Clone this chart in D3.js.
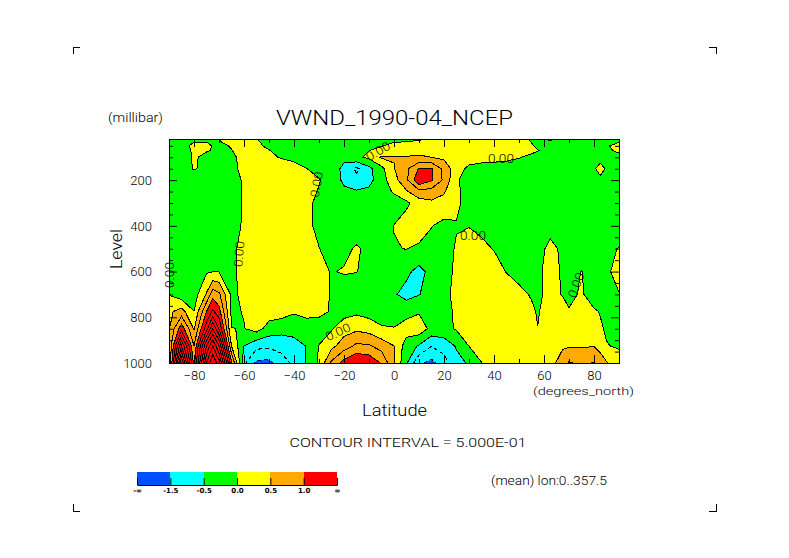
<!DOCTYPE html>
<html>
<head>
<meta charset="utf-8">
<script src="https://cdnjs.cloudflare.com/ajax/libs/d3/7.8.5/d3.min.js"></script>
<style>
  html, body { margin: 0; background: #fff; }
  text { font-family: Roboto, "DejaVu Sans", sans-serif; font-weight: 300; fill: #000; }
  .key text { font-family: "DejaVu Sans", sans-serif; font-weight: bold; }
</style>
</head>
<body>
<svg width="789" height="558"></svg>
<script>
const lats = [-90,-85,-80,-75,-72.5,-70,-65,-60,-55,-50,
  -45,-40,-35,-30,-25,-20,-15,-10,-5,0,
  5,10,15,20,25,30,35,40,45,50,
  55,57.5,62.5,67.5,70,75,80,82.5,85,90];
const levels = [20,30,50,70,100,150,200,250,300,400,500,600,700,775,850,925,1000];

// mean v wind, one row per level, top of plot first
const vwnd = [
  [-.2,-.2,-.1,-.1,-.08,-.05,.2,.2,.01,-.2, -.3,-.3,-.3,-.3,-.3,-.2,-.2,-.2,-.1,-.1, -.05,-.1,.1,.2,.2,.2,.2,.2,.2,.1, -.05,-.02,.03,-.02,-.1,-.2,-.2,-.2,-.1,-.1],
  [-.2,-.2,-.02,-.02,-.02,-.02,.2,.2,.05,-.15, -.3,-.3,-.3,-.3,-.3,-.2,-.2,-.15,-.08,-.05, -.02,.05,.2,.3,.3,.3,.3,.3,.3,.25, -.02,-.05,-.02,-.1,-.15,-.2,-.2,-.2,-.1,-.05],
  [-.2,-.15,.1,.1,-.02,-.15,.05,.3,.1,-.1, -.3,-.3,-.3,-.3,-.3,-.25,-.2,-.12,-.02,.15, .25,.3,.3,.3,.3,.3,.3,.3,.25,.2, .05,-.1,-.2,-.2,-.2,-.2,-.2,-.2,-.05,.15],
  [-.2,-.15,.05,.03,-.02,-.15,-.02,.3,.25,.02, -.2,-.3,-.3,-.3,-.3,-.3,-.2,-.01,.1,.3, .35,.4,.35,.3,.3,.3,.3,.25,.2,.15, .1,.02,-.2,-.2,-.2,-.2,-.2,-.15,-.1,.1],
  [-.3,-.2,.05,-.1,-.15,-.2,-.1,.15,.3,.1, -.04,-.2,-.3,-.3,-.4,-.4,-.1,.1,.55,.52, .52,.55,.5,.4,.3,.2,.2,.15,.1,.02, -.1,-.15,-.2,-.2,-.2,-.2,-.2,-.15,-.2,-.15],
  [-.3,-.2,.03,-.1,-.2,-.2,-.1,.1,.3,.3, .3,.3,.01,-.15,-.3,-.6,-1.1,-.65,-.15,.48, .9,1.55,1.55,.85,.2,-.1,-.2,-.2,-.2,-.2, -.2,-.2,-.2,-.2,-.2,-.2,-.05,.15,-.05,-.2],
  [-.3,-.3,-.2,-.2,-.2,-.2,-.1,.03,.3,.3, .3,.3,.3,.03,-.2,-.6,-.85,-.65,-.2,.3, .9,1.9,1.55,.9,.05,-.2,-.25,-.25,-.25,-.25, -.25,-.25,-.25,-.25,-.25,-.25,-.25,-.1,-.2,-.25],
  [-.3,-.3,-.3,-.25,-.2,-.2,-.1,.03,.3,.3, .3,.3,.15,-.03,-.25,-.4,-.45,-.4,-.2,.05, .45,.85,.8,.55,.1,-.2,-.3,-.3,-.3,-.3, -.3,-.3,-.3,-.3,-.3,-.3,-.3,-.3,-.3,-.3],
  [-.3,-.3,-.3,-.3,-.25,-.2,-.15,.03,.3,.3, .3,.3,.1,-.1,-.2,-.3,-.3,-.3,-.3,-.2, -.1,.25,.4,.35,.1,-.2,-.3,-.3,-.3,-.3, -.3,-.3,-.3,-.3,-.3,-.3,-.3,-.3,-.3,-.3],
  [-.3,-.3,-.3,-.3,-.3,-.25,-.15,.05,.3,.3, .3,.3,.1,-.1,-.2,-.2,-.25,-.3,-.2,.01, .25,.3,.02,-.15,-.03,-.02,-.1,-.2,-.3,-.3, -.3,-.3,-.2,-.3,-.3,-.3,-.3,-.3,-.3,-.25],
  [-.3,-.3,-.3,-.3,-.3,-.25,-.05,.07,.3,.3, .3,.3,.3,.01,-.15,-.1,.05,-.1,-.2,-.02, .01,-.1,-.2,-.2,.05,.25,.1,-.02,-.2,-.3, -.3,-.2,.15,-.1,-.3,-.3,-.3,-.3,-.1,.02],
  [-.3,-.3,-.25,-.05,-.02,-.02,-.1,.15,.3,.3, .3,.3,.3,.1,-.02,.03,.01,-.1,-.2,-.3, -.4,-.65,-.35,-.1,.05,.3,.3,.2,-.02,-.2, -.2,-.08,.15,-.05,-.15,.01,-.2,-.25,-.05,.1],
  [-.02,-.3,-.25,.55,1.3,1.1,-.1,.1,.3,.3, .3,.3,.3,.15,-.03,-.2,-.2,-.2,-.3,-.45, -.65,-.52,-.3,-.1,.1,.3,.3,.3,.3,.15, -.05,-.1,.15,-.03,-.1,.05,-.2,-.25,-.2,-.01],
  [.4,.7,.01,1.5,2.1,1.7,-.1,.03,.3,.25, .2,.05,.25,.15,-.05,-.2,-.1,-.2,-.2,-.3, -.2,-.05,-.2,-.1,.05,.3,.4,.4,.4,.3, .1,-.05,.3,.2,.03,.1,.05,-.02,-.15,-.15],
  [.45,1.8,.45,2.3,3.5,2.5,.01,-.02,.2,-.2, -.3,-.3,-.4,-.3,-.05,.3,.4,.3,.05,.03, .25,.3,-.15,-.15,.05,.35,.4,.4,.4,.35, .2,.01,.3,.3,.3,.3,.2,.05,-.05,-.2],
  [.45,3.5,1,4,5,4,.5,-.5,-.85,-.9, -.85,-.7,-.48,.02,.35,.75,1.1,1.05,.8,.5, -.25,-.55,-.98,-.8,-.45,.01,.2,.35,.4,.4, .4,.4,.4,.45,.45,.45,.48,.3,.02,-.05],
  [.45,5,1.3,5,6,5.2,1.6,-.9,-1.6,-1.65, -1.2,-.9,-.48,.08,1.1,1.7,2,1.9,1.45,.55, -.45,-1.4,-1.65,-1.2,-.65,-.45,-.01,.2,.4,.4, .4,.4,.35,.7,1.05,.9,1.03,.8,.55,.2]
];

const fillLevels = [-1.5,-0.5,0,0.5,1.5];
const fillColors = ["#0050ff","#00ffff","#00ff00","#ffff00","#ffaa00","#ff0000"];
const lineLevels = [-1.5,-1,-0.5,0,0.5,1,1.5,2,2.5,3,3.5,4,4.5,5,5.5];
const dashedLevels = [-1.5,-1];
const legendLabels = ["-∞","-1.5","-0.5","0.0","0.5","1.0","∞"];
const latTicks = [-80,-60,-40,-20,0,20,40,60,80];
const latMinor = [-90,-70,-50,-30,-10,10,30,50,70,90];
const levelTicks = [200,400,600,800,1000];
const levelMinor = [50,100,150,250,300,350,450,500,550,650,700,750,850,900,950];

const svg = d3.select("svg");
const x = d3.scaleLinear().domain([-90,90]).range([169,619]);
const y = d3.scaleLinear().domain([1000,20]).range([363,139]);

// grid index -> pixel, columns and rows are not evenly spaced
const colX = d3.scaleLinear().domain(d3.range(lats.length)).range(lats.map(x)).clamp(true);
const rowY = d3.scaleLinear().domain(d3.range(levels.length)).range(levels.map(y)).clamp(true);
const path = d3.geoPath(d3.geoTransform({
  point(cx, cy) { this.stream.point(colX(cx - 0.5), rowY(cy - 0.5)); }
}));

const flat = vwnd.flat();
const contours = d3.contours().size([lats.length, levels.length]);

svg.append("clipPath").attr("id","plot").append("rect")
  .attr("x",169).attr("y",139).attr("width",450).attr("height",224);
const plot = svg.append("g").attr("clip-path","url(#plot)");

plot.append("rect").attr("x",169).attr("y",139).attr("width",450).attr("height",224)
  .attr("fill",fillColors[0]);
plot.selectAll("path.fill")
  .data(contours.thresholds(fillLevels)(flat))
  .enter().append("path")
  .attr("class","fill")
  .attr("d",path)
  .attr("fill",(d,i) => fillColors[i+1])
  .attr("shape-rendering","crispEdges");
plot.selectAll("path.line")
  .data(contours.thresholds(lineLevels)(flat))
  .enter().append("path")
  .attr("class","line")
  .attr("d",path)
  .attr("fill","none")
  .attr("stroke","#000")
  .attr("stroke-width",1)
  .attr("stroke-dasharray",d => dashedLevels.includes(d.value) ? "4,3" : null)
  .attr("shape-rendering","crispEdges");

// contour labels, placed by lat/level
[[-89.8,615,-90],[-62,523,-85],[-31,219,-80],[-22.4,864,-25],[-6.4,73,-30],[42.8,108,0],[31.6,444,0],[72.8,659,-70]]
  .forEach(([lat,lev,rot]) => {
    svg.append("text")
      .attr("transform",`translate(${x(lat)},${y(lev)}) rotate(${rot})`)
      .attr("text-anchor","middle").attr("dy","0.36em")
      .attr("font-size",12).attr("textLength",26).attr("lengthAdjust","spacingAndGlyphs")
      .text("0.00");
  });

// frame and ticks, all pointing into the plot
function tidy(g) {
  g.select(".domain").remove();
  g.selectAll(".tick line").attr("stroke","#000").attr("stroke-width",1);
}
const fmtLat = d => d < 0 ? "−" + (-d) : d;
const bigTick = 8, smallTick = 4;
const tickText = g => g.selectAll("text").attr("font-size",13);
svg.append("g").attr("transform","translate(0,363)")
  .call(d3.axisBottom(x).tickValues(latTicks).tickSize(-bigTick).tickPadding(8).tickFormat(fmtLat))
  .call(tidy).call(tickText);
svg.append("g").attr("transform","translate(0,363)")
  .call(d3.axisBottom(x).tickValues(latMinor).tickSize(-smallTick).tickFormat("")).call(tidy);
svg.append("g").attr("transform","translate(0,139)")
  .call(d3.axisTop(x).tickValues(latTicks).tickSize(-bigTick).tickFormat("")).call(tidy);
svg.append("g").attr("transform","translate(0,139)")
  .call(d3.axisTop(x).tickValues(latMinor).tickSize(-smallTick).tickFormat("")).call(tidy);
svg.append("g").attr("transform","translate(169,0)")
  .call(d3.axisLeft(y).tickValues(levelTicks).tickSize(-bigTick).tickPadding(17).tickFormat(d => d))
  .call(tidy).call(tickText);
svg.append("g").attr("transform","translate(169,0)")
  .call(d3.axisLeft(y).tickValues(levelMinor).tickSize(-smallTick).tickFormat("")).call(tidy);
svg.append("g").attr("transform","translate(619,0)")
  .call(d3.axisRight(y).tickValues(levelTicks).tickSize(-bigTick).tickFormat("")).call(tidy);
svg.append("g").attr("transform","translate(619,0)")
  .call(d3.axisRight(y).tickValues(levelMinor).tickSize(-smallTick).tickFormat("")).call(tidy);
svg.append("rect").attr("x",169).attr("y",139).attr("width",450).attr("height",224)
  .attr("fill","none").attr("stroke","#000").attr("shape-rendering","crispEdges");

function label(t, px, py, size, len, rot) {
  const s = svg.append("text")
    .attr("font-size",size).attr("textLength",len).attr("lengthAdjust","spacingAndGlyphs")
    .attr("text-anchor","middle")
    .text(t);
  if (rot) s.attr("transform",`translate(${px},${py}) rotate(${rot})`);
  else s.attr("x",px).attr("y",py);
}
label("VWND_1990-04_NCEP",394.5,125,20,237);
label("(millibar)",135.5,122,12,55);
label("Level",122,249,16,40,-90);
label("Latitude",394.5,416,16,65);
label("(degrees_north)",583.5,395,11,101);
label("CONTOUR INTERVAL = 5.000E-01",408,447,12,237);
label("(mean) lon:0..357.5",549,485,12,116);

// colour key
const legendX = d3.scalePoint().domain(legendLabels).range([137,337]);
const key = svg.append("g").attr("class","key");
key.selectAll("rect").data(fillColors).enter().append("rect")
  .attr("x",(d,i) => legendX(legendLabels[i]))
  .attr("y",472).attr("height",13)
  .attr("width",legendX.step())
  .attr("fill",d => d)
  .attr("shape-rendering","crispEdges");
key.append("g").attr("transform","translate(0,485)")
  .call(d3.axisBottom(legendX).tickSize(-7).tickPadding(2))
  .call(g => g.selectAll("text").attr("font-size",7).attr("dy","0.9em"))
  .call(g => g.select(".domain").attr("stroke","#000").attr("d","M137.5,0.5H337.5"))
  .call(g => g.selectAll(".tick line").attr("stroke","#000").attr("stroke-width",1));

// crop corners
[[73,47,1,1],[716,47,-1,1],[73,511,1,-1],[716,511,-1,-1]].forEach(([cx,cy,sx,sy]) => {
  svg.append("path")
    .attr("d",d3.line()([[cx+sx*7,cy],[cx,cy],[cx,cy+sy*7]]))
    .attr("fill","none").attr("stroke","#000").attr("shape-rendering","crispEdges");
});
</script>
</body>
</html>
